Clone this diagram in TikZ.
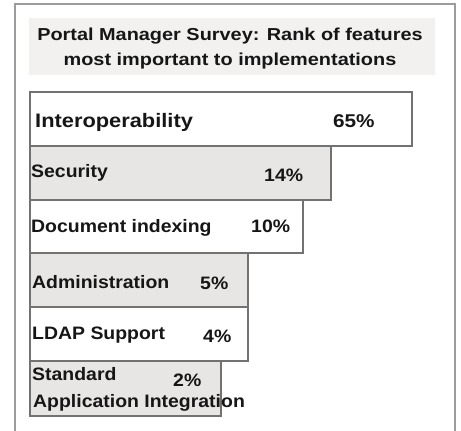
\documentclass[tikz,border=0pt]{standalone}
\usepackage{fontspec}
\setmainfont{Liberation Sans}[FakeStretch=1.08]
\newfontfamily\titlefont{Liberation Sans}[FakeStretch=1.15]
\newfontfamily\bigfont{Liberation Sans}[FakeStretch=1.12]
\definecolor{barline}{HTML}{727272}
\definecolor{barfill}{HTML}{E8E6E4}
\definecolor{titlefill}{HTML}{F2F1EF}
\definecolor{framecol}{HTML}{9C9C9C}
\definecolor{txt}{HTML}{161616}
\begin{document}
\begin{tikzpicture}[x=1pt,y=-1pt,
  barw/.style={draw=barline, line width=1.6pt, fill=white},
  barg/.style={draw=barline, line width=1.6pt, fill=barfill},
  lbl/.style={anchor=base west, inner sep=0pt, text=txt, font=\fontsize{18}{20}\selectfont\bfseries},
  pct/.style={lbl},
  ttl/.style={anchor=base, inner sep=0pt, text=txt, font=\titlefont\fontsize{17.3}{20}\selectfont\bfseries}]
\useasboundingbox (0,0) rectangle (461,431);
\clip (0,0) rectangle (461,431);
\fill[white] (0,0) rectangle (461,431);
% outer frame (open at the bottom)
\draw[framecol, line width=1.5pt] (15,440) -- (15,4) -- (455,4) -- (455,440);
% title box
\fill[titlefill] (29,18) rectangle (435,75);
\node[ttl] (t1) at (230,40) {Portal Manager Survey: Rank of features};
\node[ttl] (t2) at (230,65) {most important to implementations};
% bars
\draw[barw] (30,92) rectangle (412,146);
\draw[barg] (30,146) rectangle (331,200);
\draw[barw] (30,200) rectangle (303,253);
\draw[barg] (30,253) rectangle (248,307);
\draw[barw] (30,307) rectangle (248,361);
\draw[barg] (30,361) rectangle (221,416);
% labels
\node[lbl, font=\bigfont\fontsize{19.5}{21}\selectfont\bfseries] (l1) at (35,127) {Interoperability};
\node[pct, font=\bigfont\fontsize{18.5}{21}\selectfont\bfseries] (p1) at (333,127) {65\%};
\node[lbl] (l2) at (31,177) {Security};
\node[pct] (p2) at (264,181) {14\%};
\node[lbl] (l3) at (31,232) {Document indexing};
\node[pct] (p3) at (251,232) {10\%};
\node[lbl] (l4) at (32,288) {Administration};
\node[pct] (p4) at (200,289) {5\%};
\node[lbl] (l5) at (32,339) {LDAP Support};
\node[pct] (p5) at (203,342) {4\%};
\node[lbl] (l6) at (32,380) {Standard};
\node[pct] (p6) at (173,386) {2\%};
\node[lbl] (l7) at (33,407) {Application Integration};
\end{tikzpicture}
\end{document}
